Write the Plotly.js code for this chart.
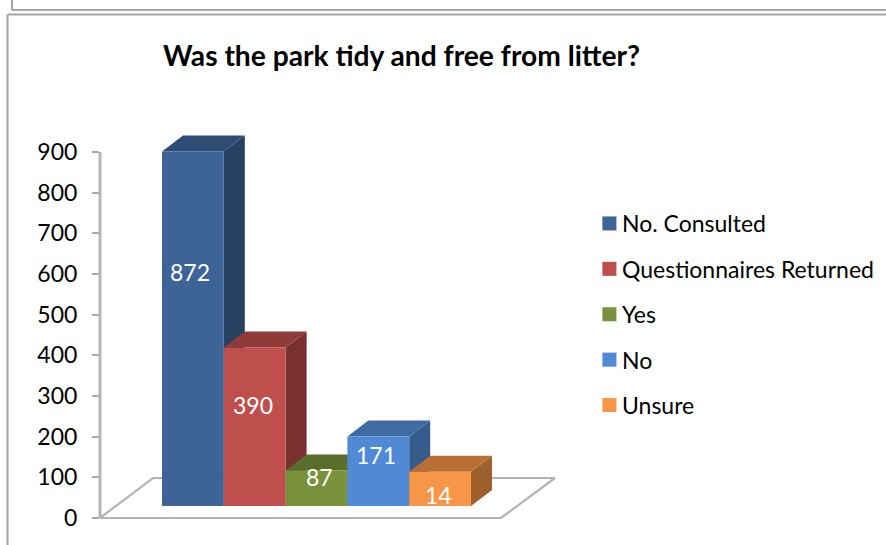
<!DOCTYPE html>
<html>
<head>
<meta charset="utf-8">
<script src="https://cdn.plot.ly/plotly-3.0.1.min.js"></script>
<style>html,body{margin:0;padding:0;background:#fff;overflow:hidden}#c{width:886px;height:545px}</style>
</head>
<body>
<div id="c"></div>
<script>
// Data
const categories = ["No. Consulted", "Questionnaires Returned", "Yes", "No", "Unsure"];
const drawnHeights = [872, 390, 87, 171, 84];
const dataLabels = ["872", "390", "87", "171", "14"];
const tickValues = [0, 100, 200, 300, 400, 500, 600, 700, 800, 900];
const frontColors = ["#3E6497", "#BE4F4C", "#78933B", "#5089D5", "#F79646"];
const topColors = ["#2E4C74", "#8E3B39", "#5A6E2C", "#3F6BA3", "#B96F34"];
const sideColors = ["#274161", "#783130", "#4C5D25", "#365B8A", "#9E602C"];
const labelFractions = [0.66, 0.64, 0.83, 0.74, 0.31];
const labelShiftX = [-3, -2, 3, -2, -2];

// Geometry of the pseudo-3D view
const W = 886, H = 545, L = 100, PW = 500;
const T = 112, AXIS0 = 518, B = 530;           // plot top, pixel of value 0, plot bottom
const pxPerUnit = 366 / 900, yPerPx = 1 / pxPerUnit;
const barPx = 61.8, xPerPx = 1 / barPx;
const xMin = (L - 162) * xPerPx, xMax = xMin + PW * xPerPx;
const yLo = (AXIS0 - B) * yPerPx, yHi = (AXIS0 - T) * yPerPx;
const lift = 12 * yPerPx, dx = 21 * xPerPx, dy = 16 * yPerPx;
const FONT = "Lato, Carlito, Calibri, sans-serif";
const px = p => (p - L) / PW, py = p => (B - p) / (B - T);

const traces = [];
// Floor
const fx = p => (p - 162) * xPerPx, fy = p => (AXIS0 - p) * yPerPx;
traces.push({type:"scatter", mode:"lines", showlegend:false, hoverinfo:"skip", cliponaxis:false,
  x:[fx(100), fx(153), fx(555), fx(501), fx(100)], y:[fy(518), fy(478), fy(478), fy(518), fy(518)],
  line:{color:"#B4B4B4", width:2.2}});
// Sides and tops, left to right
categories.forEach((c, i) => {
  const v = drawnHeights[i];
  traces.push({type:"scatter", mode:"lines", fill:"toself", showlegend:false, hoverinfo:"skip", cliponaxis:false,
    x:[i+1, i+1+dx, i+1+dx, i+1, i+1], y:[lift, lift+dy, lift+dy+v, lift+v, lift],
    fillcolor:sideColors[i], line:{width:0, color:sideColors[i]}});
  traces.push({type:"scatter", mode:"lines", fill:"toself", showlegend:false, hoverinfo:"skip", cliponaxis:false,
    x:[i, i+1, i+1+dx, i+dx, i], y:[lift+v, lift+v, lift+v+dy, lift+v+dy, lift+v],
    fillcolor:topColors[i], line:{width:0, color:topColors[i]}});
});
// Fronts on an overlaying subplot so they sit above sides and tops
categories.forEach((c, i) => {
  traces.push({type:"bar", name:c, x:[i+0.5], y:[drawnHeights[i]], base:[lift], width:[1],
    xaxis:"x2", yaxis:"y2", marker:{color:frontColors[i], line:{width:0}}, cliponaxis:false,
    legendgroup:c, hoverinfo:"name+y"});
});

const annotations = categories.map((c, i) => ({
  x:i+0.5, y:lift + drawnHeights[i]*labelFractions[i], xref:"x", yref:"y", text:dataLabels[i],
  showarrow:false, xshift:labelShiftX[i], font:{family:FONT, size:23, color:"#FFFFFF"}
}));

const frameLine = {color:"#A6A6A6", width:2};
const layout = {
  width:W, height:H, paper_bgcolor:"#fff", plot_bgcolor:"rgba(0,0,0,0)", showlegend:true, barmode:"overlay",
  margin:{l:L, t:T, r:W-L-PW, b:H-B, pad:0, autoexpand:false},
  title:{text:"<b>Was the park tidy and free from litter?</b>", xref:"paper", x:px(401.5), xanchor:"center",
    yref:"container", y:1-56/H, yanchor:"middle", font:{family:FONT, size:28.2, color:"#000"}},
  xaxis:{visible:false, range:[xMin, xMax], fixedrange:true},
  yaxis:{range:[yLo, yHi], tickmode:"array", tickvals:tickValues, showgrid:false, zeroline:false, showline:false,
    ticks:"outside", ticklen:7, tickcolor:"#A8A8A8", tickwidth:1.5, ticklabelstandoff:10,
    tickfont:{family:FONT, size:23, color:"#000"}, fixedrange:true},
  xaxis2:{visible:false, overlaying:"x", range:[xMin, xMax], fixedrange:true},
  yaxis2:{visible:false, overlaying:"y", range:[yLo, yHi], fixedrange:true},
  legend:{xref:"paper", yref:"paper", x:px(582), xanchor:"left", y:py(202), yanchor:"top",
    font:{family:FONT, size:23, color:"#000"}, tracegroupgap:12.5, traceorder:"grouped", bgcolor:"rgba(0,0,0,0)", borderwidth:0},
  annotations,
  shapes:[
    {type:"line", xref:"paper", yref:"y", x0:0, x1:0, y0:0, y1:tickValues[tickValues.length-1], line:{color:"#B4B4B4", width:3}},
    {type:"line", xref:"paper", yref:"paper", x0:px(12), x1:px(12), y0:py(0), y1:py(10), line:frameLine},
    {type:"line", xref:"paper", yref:"paper", x0:px(12), x1:px(886), y0:py(10), y1:py(10), line:frameLine},
    {type:"line", xref:"paper", yref:"paper", x0:px(7.5), x1:px(886), y0:py(14.5), y1:py(14.5), line:frameLine},
    {type:"line", xref:"paper", yref:"paper", x0:px(7.5), x1:px(7.5), y0:py(14.5), y1:py(545), line:frameLine}
  ]
};
Plotly.newPlot("c", traces, layout, {displayModeBar:false}).then(() => {
  // Reference legend keys are slightly larger and sit closer to their text
  document.querySelectorAll("#c .legend .legendsymbols").forEach(g =>
    g.setAttribute("transform", "translate(4,0) scale(1.17)"));
});
</script>
</body>
</html>
